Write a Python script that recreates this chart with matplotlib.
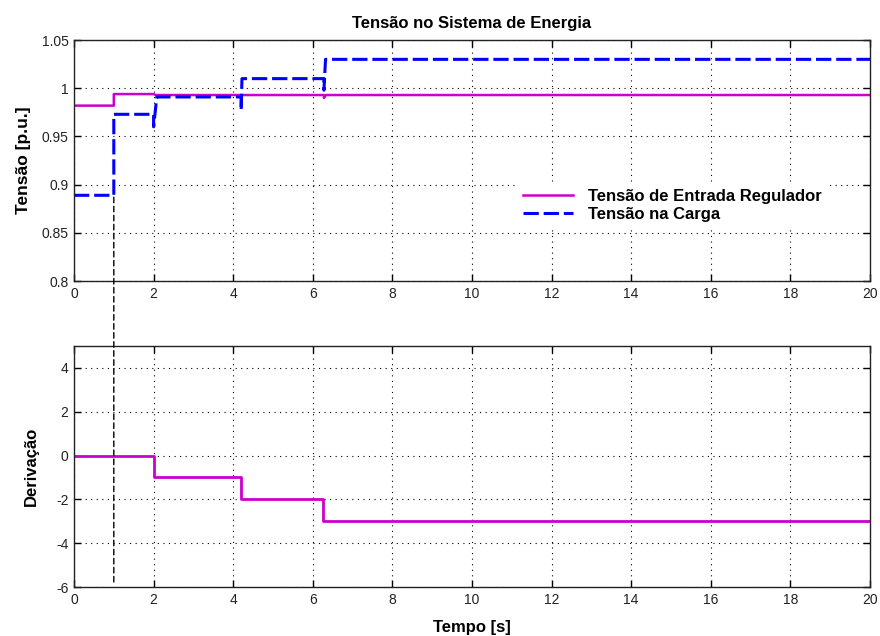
import matplotlib
matplotlib.use("Agg")
import matplotlib.pyplot as plt
from matplotlib.patches import ConnectionPatch

# ==========================================================
# Data
# ==========================================================

t_entrada = [0, 1.0, 1.0, 2.0, 2.05, 6.28, 6.28, 6.33, 20]
v_entrada = [0.982, 0.982, 0.994, 0.994, 0.993, 0.993, 0.990, 0.993, 0.993]

t_carga = [0, 1.0, 1.0, 2.0, 2.0, 2.08, 4.2, 4.2, 4.22, 6.28, 6.28, 6.32, 20]
v_carga = [0.889, 0.889, 0.973, 0.973, 0.960, 0.991, 0.991, 0.977, 1.010, 1.010, 0.998, 1.030, 1.030]

t_tap = [0, 2.0, 4.2, 6.25, 20]
v_tap = [0, -1, -2, -3, -3]

t_marca = 1.0

x_ticks = [0, 2, 4, 6, 8, 10, 12, 14, 16, 18, 20]
y_ticks_top = [0.8, 0.85, 0.9, 0.95, 1.0, 1.05]
y_labels_top = ["0.8", "0.85", "0.9", "0.95", "1", "1.05"]
y_ticks_bot = [-6, -4, -2, 0, 2, 4]

# ==========================================================
# Figure
# ==========================================================

plt.rcParams["font.family"] = ["Liberation Sans", "DejaVu Sans"]
plt.rcParams["font.size"] = 10
plt.rcParams["axes.unicode_minus"] = False

MAGENTA = "#CC00CC"
BLUE = "#0000FF"

fig = plt.figure(figsize=(8.8, 6.36), dpi=100)
ax1 = fig.add_axes([0.0841, 0.558, 0.9045, 0.379])
ax2 = fig.add_axes([0.0841, 0.077, 0.9045, 0.379])


def style_axes(ax):
    ax.set_xlim(0, 20)
    ax.set_xticks(x_ticks)
    ax.grid(True, linestyle=(0, (1, 4)), color="black", lw=0.8)
    ax.tick_params(direction="in", top=True, right=True, length=5, width=1,
                   labelsize=10, pad=4, labelcolor="#222222")
    for s in ax.spines.values():
        s.set_linewidth(1)
        s.set_color("#222222")


ax1.plot(t_entrada, v_entrada, color=MAGENTA, lw=1.8, label="Tensão de Entrada Regulador")
ax1.plot(t_carga, v_carga, color=BLUE, lw=2.2, linestyle=(0, (5, 1.6)), label="Tensão na Carga")
ax1.set_ylim(0.8, 1.05)
ax1.set_yticks(y_ticks_top)
ax1.set_yticklabels(y_labels_top)
style_axes(ax1)
ax1.set_title("Tensão no Sistema de Energia", fontweight="bold", fontsize=12, pad=9)
ax1.set_ylabel("Tensão [p.u.]", fontweight="bold", fontsize=12.5)
ax1.yaxis.set_label_coords(-0.054, 0.5)

leg = ax1.legend(loc="center left", bbox_to_anchor=(0.558, 0.314), borderaxespad=0,
                 frameon=True, fancybox=False, edgecolor="white", facecolor="white",
                 framealpha=1, borderpad=0.3, handlelength=3.0, handletextpad=0.9,
                 labelspacing=0.15, prop={"weight": "bold", "size": 12})

ax2.step(t_tap, v_tap, where="post", color=MAGENTA, lw=2.0)
ax2.set_ylim(-6, 5)
ax2.set_yticks(y_ticks_bot)
style_axes(ax2)
ax2.set_ylabel("Derivação", fontweight="bold", fontsize=12)
ax2.yaxis.set_label_coords(-0.044, 0.5)
ax2.set_xlabel("Tempo [s]", fontweight="bold", fontsize=12, labelpad=10)

con = ConnectionPatch(xyA=(t_marca, v_carga[0] - 0.002), coordsA=ax1.transData,
                      xyB=(t_marca, -5.85), coordsB=ax2.transData,
                      color="black", lw=1.0, linestyle=(0, (4, 2.5)))
fig.add_artist(con)

fig.savefig("out.png", dpi=100)
